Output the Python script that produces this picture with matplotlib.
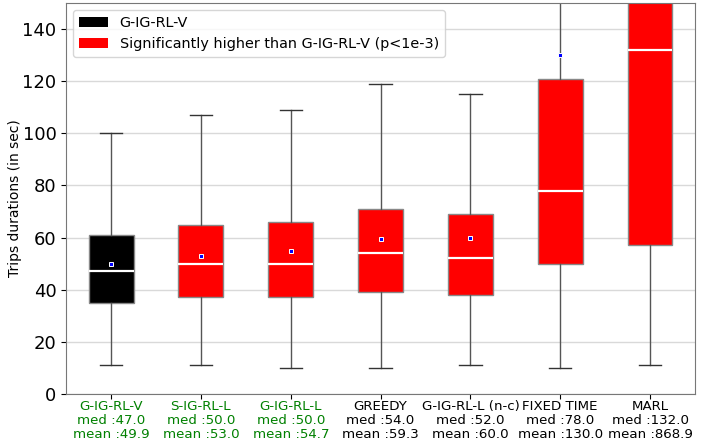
import numpy as np
import matplotlib.pyplot as plt
from matplotlib.patches import Patch

methods = ["G-IG-RL-V", "S-IG-RL-L", "G-IG-RL-L", "GREEDY", "G-IG-RL-L (n-c)", "FIXED TIME", "MARL"]
medians = [47.0, 50.0, 50.0, 54.0, 52.0, 78.0, 132.0]
means = [49.9, 53.0, 54.7, 59.3, 60.0, 130.0, 868.9]
q1 = [35, 37, 37, 39, 38, 50, 57]
q3 = [61, 65, 66, 71, 69, 121, 200]
whislo = [11, 11, 10, 10, 11, 10, 11]
whishi = [100, 107, 109, 119, 115, 180, 400]
significant = [False, True, True, True, True, True, True]
green_label = [True, True, True, False, False, False, False]

stats = []
for i, m in enumerate(methods):
    stats.append(dict(med=medians[i], mean=means[i], q1=q1[i], q3=q3[i],
                      whislo=whislo[i], whishi=whishi[i], fliers=[], label=m))

fig = plt.figure(figsize=(7.12, 4.45), dpi=100)
ax = fig.add_axes([0.093, 0.115, 0.883, 0.878])

bp = ax.bxp(stats, showmeans=True, patch_artist=True, widths=0.5,
            medianprops=dict(color="white", linewidth=1.6),
            boxprops=dict(edgecolor="#888888", linewidth=1),
            whiskerprops=dict(color="#555555", linewidth=1),
            capprops=dict(color="#333333", linewidth=1),
            meanprops=dict(marker="s", markerfacecolor="blue", markeredgecolor="white",
                           markersize=3.5, markeredgewidth=0.7))
for box, sig in zip(bp["boxes"], significant):
    box.set_facecolor("red" if sig else "black")

ax.set_ylim(0, 150)
ax.set_xlim(0.5, 7.5)
ax.set_yticks(np.arange(0, 141, 20))
ax.tick_params(axis="y", labelsize=13)
ax.yaxis.grid(True, color="#d9d9d9", linewidth=1)
ax.set_axisbelow(True)
ax.set_ylabel("Trips durations (in sec)", fontsize=10)
ax.yaxis.set_label_coords(-0.071, 0.5)

labels = [f"{m}\nmed :{md:.1f}\nmean :{mn:.1f}" for m, md, mn in zip(methods, medians, means)]
ax.set_xticks(range(1, 8))
ax.set_xticklabels(labels, fontsize=9.6, linespacing=1.1)
ax.tick_params(axis="x", pad=1)
for lab, g in zip(ax.get_xticklabels(), green_label):
    lab.set_color("green" if g else "black")

for s in ax.spines.values():
    s.set_color("#777777")

handles = [Patch(facecolor="black", label="G-IG-RL-V"),
           Patch(facecolor="red", label="Significantly higher than G-IG-RL-V (p<1e-3)")]
ax.legend(handles=handles, loc="upper left", fontsize=10.4, bbox_to_anchor=(0.0, 1.0))

fig.savefig("out.png", dpi=100)
